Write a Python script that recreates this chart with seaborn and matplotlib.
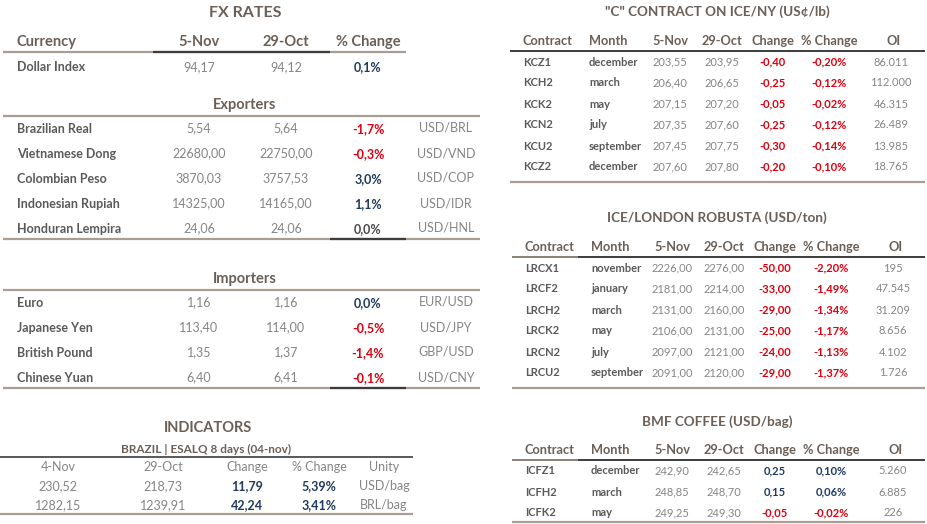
import matplotlib
matplotlib.use("Agg")
import matplotlib.pyplot as plt
import seaborn as sns

sns.set_theme(style="white")
plt.rcParams['font.family'] = ['Lato', 'DejaVu Sans']

# ---- data ----
fx_cols = ['5-Nov', '29-Oct', '% Change']
dollar_idx = ['Dollar Index', '94,17', '94,12', '0,1%']

exp_names = ['Brazilian Real', 'Vietnamese Dong', 'Colombian Peso', 'Indonesian Rupiah', 'Honduran Lempira']
exp_nov = ['5,54', '22680,00', '3870,03', '14325,00', '24,06']
exp_oct = ['5,64', '22750,00', '3757,53', '14165,00', '24,06']
exp_chg = ['-1,7%', '-0,3%', '3,0%', '1,1%', '0,0%']
exp_tone = ['neg', 'neg', 'pos', 'pos', 'flat']
exp_pair = ['USD/BRL', 'USD/VND', 'USD/COP', 'USD/IDR', 'USD/HNL']

imp_names = ['Euro', 'Japanese Yen', 'British Pound', 'Chinese Yuan']
imp_nov = ['1,16', '113,40', '1,35', '6,40']
imp_oct = ['1,16', '114,00', '1,37', '6,41']
imp_chg = ['0,0%', '-0,5%', '-1,4%', '-0,1%']
imp_tone = ['pos', 'neg', 'neg', 'neg']
imp_pair = ['EUR/USD', 'USD/JPY', 'GBP/USD', 'USD/CNY']

ind_cols = ['4-Nov', '29-Oct', 'Change', '% Change', 'Unity']
ind_nov = ['230,52', '1282,15']
ind_oct = ['218,73', '1239,91']
ind_chg = ['11,79', '42,24']
ind_pct = ['5,39%', '3,41%']
ind_unit = ['USD/bag', 'BRL/bag']

fut_cols = ['Contract', 'Month', '5-Nov', '29-Oct', 'Change', '% Change', 'OI']

kc_contract = ['KCZ1', 'KCH2', 'KCK2', 'KCN2', 'KCU2', 'KCZ2']
kc_month = ['december', 'march', 'may', 'july', 'september', 'december']
kc_nov = ['203,55', '206,40', '207,15', '207,35', '207,45', '207,60']
kc_oct = ['203,95', '206,65', '207,20', '207,60', '207,75', '207,80']
kc_chg = ['-0,40', '-0,25', '-0,05', '-0,25', '-0,30', '-0,20']
kc_pct = ['-0,20%', '-0,12%', '-0,02%', '-0,12%', '-0,14%', '-0,10%']
kc_oi = ['86.011', '112.000', '46.315', '26.489', '13.985', '18.765']

lrc_contract = ['LRCX1', 'LRCF2', 'LRCH2', 'LRCK2', 'LRCN2', 'LRCU2']
lrc_month = ['november', 'january', 'march', 'may', 'july', 'september']
lrc_nov = ['2226,00', '2181,00', '2131,00', '2106,00', '2097,00', '2091,00']
lrc_oct = ['2276,00', '2214,00', '2160,00', '2131,00', '2121,00', '2120,00']
lrc_chg = ['-50,00', '-33,00', '-29,00', '-25,00', '-24,00', '-29,00']
lrc_pct = ['-2,20%', '-1,49%', '-1,34%', '-1,17%', '-1,13%', '-1,37%']
lrc_oi = ['195', '47.545', '31.209', '8.656', '4.102', '1.726']

icf_contract = ['ICFZ1', 'ICFH2', 'ICFK2']
icf_month = ['december', 'march', 'may']
icf_nov = ['242,90', '248,85', '249,25']
icf_oct = ['242,65', '248,70', '249,30']
icf_chg = ['0,25', '0,15', '-0,05']
icf_pct = ['0,10%', '0,06%', '-0,02%']
icf_oi = ['5.260', '6.885', '226']

# ---- styles ----
C_TITLE = '#6b5f56'
C_LABEL = '#5a5a5a'
C_VAL = '#858585'
C_RED = '#e0000f'
C_BLUE = '#1f3a60'
C_FLAT = '#4a4a4a'
C_LINE = '#a89d93'
C_DARK = '#3c3c3c'
TONE = {'neg': C_RED, 'pos': C_BLUE, 'flat': C_FLAT}


def tone_of(s):
    return 'neg' if s.startswith('-') else 'pos'


fig = plt.figure(figsize=(9.27, 5.24), dpi=100)
ax = fig.add_axes([0, 0, 1, 1])
ax.set_xlim(0, 927)
ax.set_ylim(524, 0)
ax.axis('off')


def txt(x, y, s, size=9, color=C_VAL, weight='normal', ha='center'):
    ax.text(x, y, s, fontsize=size, color=color, fontweight=weight, ha=ha, va='center')


def hline(y, x0, x1, color=C_LINE, lw=1.6):
    ax.plot([x0, x1], [y, y], color=color, lw=lw, solid_capstyle='butt')


# ---- FX RATES ----
fx_x = [199, 286, 368]
pair_x = 446
txt(245, 13, 'FX RATES', 11.5, C_TITLE, 'bold')
txt(17, 42, 'Currency', 10.5, C_TITLE, 'bold', 'left')
for x, c in zip(fx_x, fx_cols):
    txt(x, 42, c, 10.5, C_TITLE, 'bold')
hline(52, 3, 406)
hline(52, 153, 330, C_DARK)
txt(17, 67, dollar_idx[0], 9, C_LABEL, 'bold', 'left')
txt(fx_x[0], 67, dollar_idx[1], 9)
txt(fx_x[1], 67, dollar_idx[2], 9)
txt(fx_x[2], 67, dollar_idx[3], 9, C_BLUE, 'bold')


def fx_block(title, ty, rows_y0, names, nov, oct_, chg, tone, pair):
    txt(245, ty, title, 10.5, C_TITLE, 'bold')
    hline(ty + 11, 3, 480)
    for i in range(len(names)):
        y = rows_y0 + 25 * i
        txt(17, y, names[i], 9, C_LABEL, 'bold', 'left')
        txt(fx_x[0], y - 1, nov[i], 9)
        txt(fx_x[1], y - 1, oct_[i], 9)
        txt(fx_x[2], y, chg[i], 9, TONE[tone[i]], 'bold')
        txt(pair_x, y - 1, pair[i], 9)
    yb = rows_y0 + 25 * (len(names) - 1) + 10
    hline(yb, 3, 480)
    hline(yb, 330, 406, C_DARK)


fx_block('Exporters', 105, 129, exp_names, exp_nov, exp_oct, exp_chg, exp_tone, exp_pair)
fx_block('Importers', 279, 303, imp_names, imp_nov, imp_oct, imp_chg, imp_tone, imp_pair)

# ---- INDICATORS ----
ind_x = [58, 163, 247, 319, 384]
txt(208, 428, 'INDICATORS', 10.5, C_TITLE, 'bold')
txt(206, 449, 'BRAZIL | ESALQ 8 days (04-nov)', 8.5, C_TITLE, 'bold')
hline(457, 0, 413, C_DARK, 1.2)
for x, c in zip(ind_x, ind_cols):
    txt(x, 467, c, 9)
for i in range(len(ind_nov)):
    y = 486 + 19 * i
    txt(ind_x[0], y, ind_nov[i], 9)
    txt(ind_x[1], y, ind_oct[i], 9)
    txt(ind_x[2], y, ind_chg[i], 9, TONE[tone_of(ind_chg[i])], 'bold')
    txt(ind_x[3], y, ind_pct[i], 9, TONE[tone_of(ind_pct[i])], 'bold')
    txt(ind_x[4], y, ind_unit[i], 9)
hline(514, 0, 413)


# ---- futures tables ----
def fut_table(title, ty, hy, x0, contract, month, nov, oct_, chg, pct, oi, split_left):
    xs = [x0 + 13, x0 + 79, x0 + 160, x0 + 212, x0 + 263, x0 + 319, x0 + 384]
    txt(717, ty, title, 9.7, C_TITLE, 'bold')
    txt(xs[0], hy, fut_cols[0], 9.2, C_TITLE, 'bold', 'left')
    txt(xs[1], hy, fut_cols[1], 9.2, C_TITLE, 'bold', 'left')
    for x, c in zip(xs[2:], fut_cols[2:]):
        txt(x, hy, c, 9.2, C_TITLE, 'bold')
    ly = hy + 10
    if split_left:
        hline(ly, x0, x0 + 66, '#8c7f74', 1.4)
        hline(ly, x0 + 66, 925, C_DARK, 1.4)
    else:
        hline(ly, x0, 925, C_DARK, 1.4)
    for i in range(len(contract)):
        y = hy + 21 + 21 * i
        txt(xs[0], y, contract[i], 8, C_LABEL, 'bold', 'left')
        txt(xs[1], y, month[i], 8, C_LABEL, 'bold', 'left')
        txt(xs[2], y, nov[i], 8)
        txt(xs[3], y, oct_[i], 8)
        txt(xs[4], y, chg[i], 8, TONE[tone_of(chg[i])], 'bold')
        txt(xs[5], y, pct[i], 8, TONE[tone_of(pct[i])], 'bold')
        txt(xs[6] - 3, y, oi[i], 8)
    yb = hy + 21 + 21 * (len(contract) - 1) + 15
    hline(min(yb, 522), x0, 925)


fut_table('"C" CONTRACT ON ICE/NY (US¢/lb)', 12, 41, 510,
          kc_contract, kc_month, kc_nov, kc_oct, kc_chg, kc_pct, kc_oi, False)
fut_table('ICE/LONDON ROBUSTA (USD/ton)', 218, 247, 512,
          lrc_contract, lrc_month, lrc_nov, lrc_oct, lrc_chg, lrc_pct, lrc_oi, True)
fut_table('BMF COFFEE (USD/bag)', 422, 450, 512,
          icf_contract, icf_month, icf_nov, icf_oct, icf_chg, icf_pct, icf_oi, True)

fig.savefig('out.png', dpi=100, facecolor='white')
